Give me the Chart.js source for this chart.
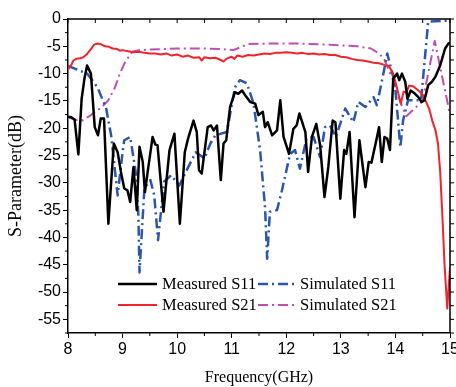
<!DOCTYPE html>
<html>
<head>
<meta charset="utf-8">
<script src="https://cdn.jsdelivr.net/npm/chart.js@4.4.1/dist/chart.umd.min.js"></script>
<style>
  html, body { margin: 0; padding: 0; background: #fff; }
  #wrap { width: 456px; height: 387px; }
</style>
</head>
<body>
<div id="wrap"><canvas id="sparam" width="456" height="387"></canvas></div>
<script>
// measured S11
const measS11Freq = [8.00, 8.06, 8.12, 8.19, 8.25, 8.30, 8.35, 8.42, 8.49, 8.55, 8.60, 8.66, 8.74, 8.79, 8.84, 8.91, 8.97,
  9.03, 9.09, 9.14, 9.20, 9.26, 9.31, 9.37, 9.41, 9.46, 9.55, 9.60, 9.64, 9.75, 9.80, 9.86, 9.95,
  10.05, 10.14, 10.20, 10.30, 10.36, 10.40, 10.45, 10.56, 10.62, 10.67, 10.73, 10.80, 10.85, 10.90, 10.97,
  11.06, 11.12, 11.19, 11.25, 11.34, 11.43, 11.49, 11.57, 11.61, 11.66, 11.74, 11.83, 11.89, 11.95,
  12.05, 12.13, 12.19, 12.24, 12.35, 12.40, 12.47, 12.55, 12.62, 12.70, 12.77, 12.85, 12.90, 12.99,
  13.06, 13.10, 13.16, 13.25, 13.34, 13.45, 13.51, 13.56, 13.65, 13.70, 13.75, 13.80, 13.85, 13.90, 13.96,
  14.03, 14.07, 14.12, 14.18, 14.22, 14.28, 14.36, 14.42, 14.48, 14.53, 14.60, 14.67, 14.73, 14.82, 14.91, 14.97, 15.00];
const measS11 = [-17.9, -18.0, -18.4, -24.8, -14.6, -11.0, -8.5, -10.0, -19.8, -21.3, -18.2, -18.2, -37.5, -30.0, -22.8, -24.4, -28.0,
  -31.0, -31.4, -33.5, -27.1, -35.0, -23.4, -26.2, -31.7, -28.0, -21.6, -23.0, -23.1, -35.3, -30.0, -24.0, -21.0,
  -37.5, -24.4, -21.9, -18.6, -20.7, -27.7, -28.3, -19.8, -19.5, -20.4, -19.5, -29.5, -22.8, -22.2, -16.1,
  -13.4, -13.7, -13.1, -14.0, -15.2, -15.5, -17.6, -17.0, -19.8, -18.9, -21.3, -20.4, -14.9, -21.6,
  -24.7, -20.1, -19.5, -17.3, -20.7, -28.0, -21.6, -19.2, -23.1, -32.6, -27.1, -18.6, -18.9, -32.9,
  -24.0, -24.7, -20.7, -36.3, -22.2, -30.8, -26.2, -26.3, -22.2, -19.8, -26.2, -21.6, -21.9, -24.0, -10.9,
  -10.0, -11.2, -10.0, -11.5, -14.6, -13.1, -13.7, -14.3, -15.2, -14.9, -12.1, -11.5, -10.6, -8.5, -5.4, -4.5, -4.3];

// measured S21
const measS21Freq = [8.00, 8.05, 8.10, 8.15, 8.22, 8.28, 8.35, 8.42, 8.48, 8.53, 8.60, 8.68, 8.75, 8.82, 8.90, 8.95,
  9.00, 9.10, 9.20, 9.30, 9.40, 9.50, 9.60, 9.70, 9.80, 9.90, 10.00, 10.10, 10.20, 10.30, 10.40, 10.45, 10.50,
  10.60, 10.70, 10.80, 10.85, 10.90, 11.00, 11.05, 11.10, 11.20, 11.30, 11.40, 11.50, 11.60, 11.70, 11.80, 11.90,
  12.00, 12.10, 12.20, 12.30, 12.40, 12.50, 12.60, 12.70, 12.80, 12.90, 13.00, 13.10, 13.20, 13.30, 13.40,
  13.50, 13.60, 13.70, 13.80, 13.88, 13.95, 14.00, 14.05, 14.10, 14.15, 14.20, 14.25, 14.32, 14.40, 14.48,
  14.55, 14.62, 14.68, 14.73, 14.78, 14.82, 14.86, 14.90, 14.95, 15.00];
const measS21 = [-9.2, -8.6, -7.6, -7.3, -7.2, -7.0, -6.4, -5.5, -4.7, -4.5, -4.6, -5.0, -5.1, -5.4, -5.5, -5.8,
  -5.7, -5.9, -6.1, -6.0, -6.2, -6.3, -6.3, -6.5, -6.3, -6.7, -6.5, -6.9, -6.7, -7.1, -7.0, -7.6, -7.0,
  -7.2, -7.1, -7.5, -7.8, -7.3, -6.9, -7.3, -6.7, -6.9, -6.6, -6.7, -6.5, -6.3, -6.4, -6.2, -6.2,
  -6.1, -6.2, -6.3, -6.2, -6.4, -6.3, -6.5, -6.4, -6.6, -6.6, -6.9, -7.0, -7.3, -7.5, -7.6,
  -7.8, -8.0, -8.1, -8.4, -8.6, -9.8, -11.5, -13.5, -15.5, -13.3, -13.5, -12.2, -12.3, -12.9, -13.6,
  -14.9, -16.5, -18.8, -20.2, -22.8, -28.0, -36.0, -45.0, -53.0, -45.5];

// simulated S11
const simS11Freq = [8.00, 8.35, 8.54, 8.70, 8.79, 8.85, 8.91, 9.00, 9.03, 9.14, 9.25, 9.29, 9.31, 9.40, 9.51, 9.58, 9.65,
  9.76, 9.89, 10.04, 10.16, 10.34, 10.50, 10.61, 10.70, 10.91, 11.06, 11.15, 11.28, 11.40, 11.52, 11.61, 11.65,
  11.70, 11.83, 11.92, 12.07, 12.16, 12.25, 12.37, 12.50, 12.62, 12.71, 12.80, 12.91, 13.08, 13.23, 13.32, 13.45,
  13.60, 13.66, 13.78, 13.85, 13.99, 14.09, 14.14, 14.23, 14.47, 14.60, 14.97, 15.00];
const simS11 = [-8.6, -10.0, -12.5, -16.4, -21.3, -26.8, -32.3, -24.4, -22.2, -21.6, -28.6, -36.0, -46.4, -31.0, -29.5, -32.3, -40.5,
  -29.8, -28.6, -30.5, -28.0, -24.4, -25.5, -22.8, -21.3, -20.7, -12.5, -11.2, -11.8, -15.5, -24.0, -34.4, -43.9,
  -35.3, -35.0, -31.4, -24.7, -24.0, -27.4, -21.9, -21.6, -25.3, -19.8, -19.5, -21.6, -16.4, -18.9, -15.2, -16.1,
  -14.3, -15.8, -10.0, -6.3, -11.8, -23.5, -18.6, -14.9, -14.9, -0.5, -0.3, -0.3];

// simulated S21
const simS21Freq = [8.00, 8.15, 8.26, 8.42, 8.60, 8.73, 8.85, 8.95, 9.05, 9.18, 9.30, 9.50, 10.00, 10.50, 10.80, 11.03,
  11.30, 11.70, 12.25, 12.80, 13.30, 13.55, 13.70, 13.80, 13.95, 14.10, 14.20, 14.50, 14.72, 15.00];
const simS21 = [-18.0, -18.5, -18.6, -17.6, -16.3, -15.0, -12.8, -10.0, -7.8, -6.0, -5.7, -5.6, -5.4, -5.4, -5.5, -5.7,
  -4.6, -4.5, -4.5, -4.7, -5.0, -5.4, -6.3, -7.5, -11.0, -15.5, -17.8, -15.0, -4.0, -17.5];

const toPoints = (xs, ys) => xs.map((x, i) => ({ x: x, y: ys[i] }));
const dashDot = [10, 4, 2, 4];
const isMajorX = v => Number.isInteger(v);
const isMajorY = v => v % 5 === 0;

// short minor ticks on the axes, plus the top/right edges of the box
const boxTicks = {
  id: 'boxTicks',
  afterDraw(chart) {
    const ctx = chart.ctx;
    const a = chart.chartArea;
    const xs = chart.scales.x, ys = chart.scales.y;
    ctx.save();
    ctx.strokeStyle = '#000';
    ctx.lineWidth = 1.5;
    ctx.beginPath();
    ctx.moveTo(a.left, a.top);
    ctx.lineTo(a.right, a.top);
    ctx.lineTo(a.right, a.bottom);
    ctx.stroke();
    ctx.lineWidth = 1;
    ctx.beginPath();
    xs.ticks.forEach(t => {
      const px = xs.getPixelForValue(t.value);
      ctx.moveTo(px, a.top);
      ctx.lineTo(px, a.top + 4);
      if (!isMajorX(t.value)) {
        ctx.moveTo(px, a.bottom);
        ctx.lineTo(px, a.bottom + 3);
      }
    });
    ys.ticks.forEach(t => {
      const py = ys.getPixelForValue(t.value);
      ctx.moveTo(a.right, py);
      ctx.lineTo(a.right + 4, py);
      if (!isMajorY(t.value)) {
        ctx.moveTo(a.left, py);
        ctx.lineTo(a.left - 3, py);
      }
    });
    ctx.stroke();
    ctx.restore();
  }
};

// legend inside the plot, two columns
const innerLegend = {
  id: 'innerLegend',
  afterDraw(chart) {
    const ctx = chart.ctx;
    const slots = [
      { x: 118, y: 284, len: 39 },
      { x: 118, y: 305, len: 39 },
      { x: 258, y: 284, len: 37 },
      { x: 258, y: 305, len: 37 }
    ];
    ctx.save();
    ctx.font = '16.5px "Liberation Serif", "Times New Roman", serif';
    ctx.textBaseline = 'middle';
    ctx.fillStyle = '#000';
    chart.data.datasets.forEach((ds, i) => {
      const s = slots[i];
      ctx.strokeStyle = ds.borderColor;
      ctx.lineWidth = ds.borderWidth;
      ctx.setLineDash(ds.borderDash || []);
      ctx.beginPath();
      ctx.moveTo(s.x, s.y);
      ctx.lineTo(s.x + s.len, s.y);
      ctx.stroke();
      ctx.setLineDash([]);
      ctx.fillText(ds.label, s.x + s.len + 5, s.y + 1);
    });
    ctx.restore();
  }
};

const tickFont = { family: '"Liberation Sans", Arial, sans-serif', size: 16 };
const titleFont = { family: '"Liberation Serif", "Times New Roman", serif', size: 16 };

const ctx = document.getElementById('sparam').getContext('2d');
const chart = new Chart(ctx, {
  type: 'line',
  data: {
    datasets: [
      { label: 'Measured S11', data: toPoints(measS11Freq, measS11), borderColor: '#000000', borderWidth: 2.5 },
      { label: 'Measured S21', data: toPoints(measS21Freq, measS21), borderColor: '#f2232b', borderWidth: 2 },
      { label: 'Simulated S11', data: toPoints(simS11Freq, simS11), borderColor: '#2b56ae', borderWidth: 2.5, borderDash: dashDot },
      { label: 'Simulated S21', data: toPoints(simS21Freq, simS21), borderColor: '#c04db4', borderWidth: 2, borderDash: dashDot }
    ]
  },
  options: {
    responsive: false,
    animation: false,
    elements: { point: { radius: 0 }, line: { tension: 0, borderJoinStyle: 'round' } },
    layout: { padding: { top: 19, right: 6, bottom: 0, left: 0 } },
    plugins: { legend: { display: false }, tooltip: { enabled: false } },
    scales: {
      x: {
        type: 'linear',
        min: 8, max: 15,
        border: { display: true, color: '#000', width: 1.5 },
        grid: {
          drawOnChartArea: false, drawTicks: true, tickLength: 5, lineWidth: 1,
          tickColor: c => (c.tick && isMajorX(c.tick.value) ? '#000' : 'rgba(0,0,0,0)')
        },
        ticks: {
          stepSize: 0.5, autoSkip: false, maxRotation: 0, padding: 2, color: '#000', font: tickFont,
          callback: v => (isMajorX(v) ? String(v) : '')
        },
        title: { display: true, text: 'Frequency(GHz)', color: '#000', font: titleFont, padding: { top: 0, bottom: 0 } },
        afterFit(scale) {
          scale.height = 54;
          scale.paddingLeft = 0;
          scale.paddingRight = 0;
        }
      },
      y: {
        min: -57.5, max: 0,
        border: { display: true, color: '#000', width: 1.5 },
        grid: {
          drawOnChartArea: false, drawTicks: true, tickLength: 5, lineWidth: 1,
          tickColor: c => (c.tick && isMajorY(c.tick.value) ? '#000' : 'rgba(0,0,0,0)')
        },
        ticks: {
          stepSize: 2.5, autoSkip: false, padding: 2, color: '#000', font: tickFont,
          callback: v => (isMajorY(v) ? String(v) : '')
        },
        title: { display: true, text: 'S-Parameter(dB)', color: '#000', font: { family: titleFont.family, size: 18 }, padding: { top: 5, bottom: 0 } },
        afterFit(scale) {
          scale.width = 68;
          scale.paddingTop = 0;
          scale.paddingBottom = 0;
        }
      }
    }
  },
  plugins: [boxTicks, innerLegend]
});
</script>
</body>
</html>
